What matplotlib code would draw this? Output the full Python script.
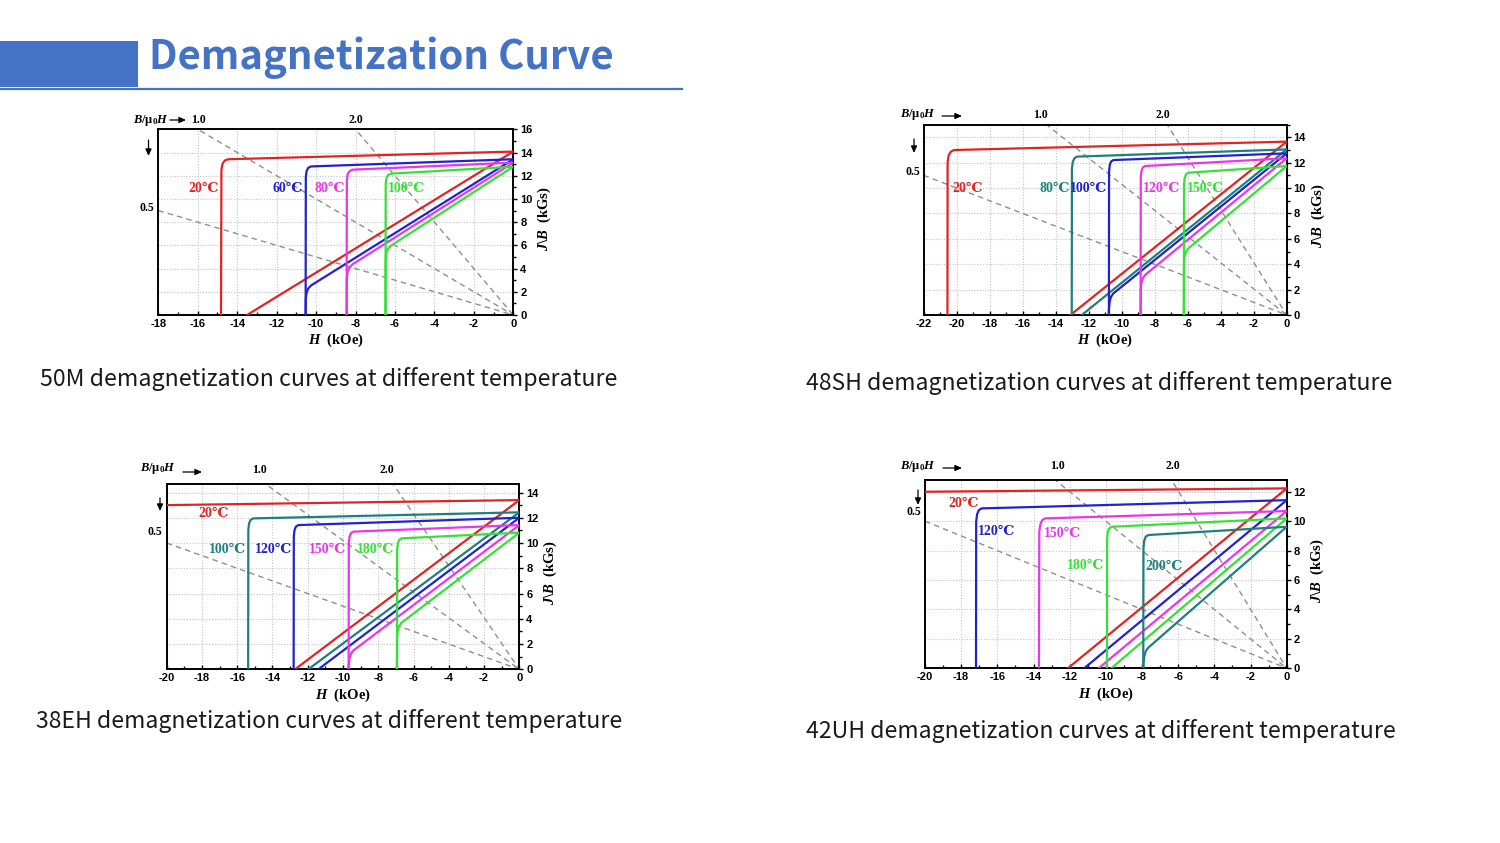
import matplotlib
matplotlib.use('Agg')
import matplotlib.pyplot as plt
from matplotlib.ticker import MultipleLocator
from matplotlib.patches import Rectangle, FancyArrowPatch
from matplotlib.lines import Line2D

plt.rcParams['mathtext.fontset'] = 'custom'
plt.rcParams['mathtext.rm'] = 'Liberation Serif:bold'
plt.rcParams['mathtext.it'] = 'Liberation Serif:italic:bold'
plt.rcParams['mathtext.bf'] = 'Liberation Serif:bold'
plt.rcParams['axes.unicode_minus'] = False

RED, BLUE, MAG, GRN, TEAL = '#e02424', '#2222cc', '#e836e8', '#36e036', '#1f7f7d'

# ---------------- 50M ----------------
m50_temps = ['20℃', '60℃', '80℃', '100℃']
m50_colors = [RED, BLUE, MAG, GRN]
m50_J_H = [[0, -14.45, -14.62, -14.74, -14.80, -14.82],
           [0, -10.25, -10.40, -10.48, -10.52, -10.53],
           [0, -8.15, -8.30, -8.40, -8.44, -8.45],
           [0, -6.20, -6.35, -6.43, -6.47, -6.48]]
m50_J_V = [[14.08, 13.42, 13.32, 13.05, 12.5, 0],
           [13.42, 12.80, 12.68, 12.40, 11.9, 0],
           [13.13, 12.52, 12.40, 12.12, 11.6, 0],
           [12.78, 12.18, 12.06, 11.80, 11.3, 0]]
m50_B_H = [[0, -13.5],
           [0, -10.25, -10.40, -10.48, -10.52, -10.53],
           [0, -8.15, -8.30, -8.40, -8.44, -8.45],
           [0, -6.20, -6.35, -6.43, -6.47, -6.48]]
m50_B_V = [[14.08, 0],
           [13.42, 2.55, 2.28, 1.92, 1.38, 0],
           [13.13, 4.37, 4.10, 3.72, 3.16, 0],
           [12.78, 5.98, 5.71, 5.37, 4.83, 0]]
m50_lbl_H = [-14.95, -10.65, -8.55, -6.35]
m50_lbl_J = [10.9, 10.9, 10.9, 10.9]
m50_lbl_ha = ['right', 'right', 'right', 'left']
m50_load = [0.5, 1.0, 2.0]

# ---------------- 48SH ----------------
sh48_temps = ['20℃', '80℃', '100℃', '120℃', '150℃']
sh48_colors = [RED, TEAL, BLUE, MAG, GRN]
sh48_J_H = [[0, -20.15, -20.35, -20.48, -20.54, -20.55],
            [0, -12.70, -12.86, -12.96, -13.01, -13.02],
            [0, -10.50, -10.64, -10.72, -10.76, -10.77],
            [0, -8.58, -8.72, -8.80, -8.84, -8.85],
            [0, -5.96, -6.10, -6.18, -6.22, -6.23]]
sh48_J_V = [[13.65, 12.99, 12.85, 12.55, 12.0, 0],
            [13.04, 12.47, 12.35, 12.05, 11.5, 0],
            [12.73, 12.20, 12.08, 11.80, 11.3, 0],
            [12.34, 11.73, 11.61, 11.33, 10.83, 0],
            [11.73, 11.20, 11.08, 10.80, 10.3, 0]]
sh48_B_H = [[0, -13.1],
            [0, -12.41],
            [0, -10.50, -10.64, -10.72, -10.76, -10.77],
            [0, -8.58, -8.72, -8.80, -8.84, -8.85],
            [0, -5.96, -6.10, -6.18, -6.22, -6.23]]
sh48_B_V = [[13.65, 0],
            [13.04, 0],
            [12.73, 1.70, 1.44, 1.08, 0.54, 0],
            [12.34, 3.15, 2.89, 2.53, 1.99, 0],
            [11.73, 5.24, 4.98, 4.62, 4.08, 0]]
sh48_lbl_H = [-20.25, -13.1, -10.88, -8.7, -6.05]
sh48_lbl_J = [9.97, 9.97, 9.97, 9.97, 9.97]
sh48_lbl_ha = ['left', 'right', 'right', 'left', 'left']
sh48_load = [0.5, 1.03, 2.07]

# ---------------- 38EH ----------------
eh38_temps = ['20℃', '100℃', '120℃', '150℃', '180℃']
eh38_colors = [RED, TEAL, BLUE, MAG, GRN]
eh38_J_H = [[0, -20],
            [0, -15.09, -15.24, -15.33, -15.37, -15.38],
            [0, -12.53, -12.67, -12.75, -12.79, -12.80],
            [0, -9.41, -9.55, -9.63, -9.67, -9.68],
            [0, -6.67, -6.81, -6.89, -6.93, -6.94]]
eh38_J_V = [[13.4, 13.0],
            [12.43, 11.95, 11.83, 11.55, 11.05, 0],
            [12.00, 11.42, 11.30, 11.02, 10.52, 0],
            [11.42, 10.90, 10.78, 10.50, 10.0, 0],
            [10.82, 10.37, 10.25, 9.97, 9.47, 0]]
eh38_B_H = [[0, -12.72],
            [0, -11.97],
            [0, -11.4],
            [0, -9.41, -9.55, -9.63, -9.67, -9.68],
            [0, -6.67, -6.81, -6.89, -6.93, -6.94]]
eh38_B_V = [[13.4, 0],
            [12.43, 0],
            [12.0, 0],
            [11.42, 1.49, 1.23, 0.87, 0.33, 0],
            [10.82, 3.70, 3.44, 3.08, 2.54, 0]]
eh38_lbl_H = [-18.2, -15.5, -12.9, -9.8, -7.1]
eh38_lbl_J = [12.35, 9.45, 9.45, 9.45, 9.45]
eh38_lbl_ha = ['left', 'right', 'right', 'right', 'right']
eh38_load = [0.5, 1.02, 2.05]

# ---------------- 42UH ----------------
uh42_temps = ['20℃', '120℃', '150℃', '180℃', '200℃']
uh42_colors = [RED, BLUE, MAG, GRN, TEAL]
uh42_J_H = [[0, -20],
            [0, -16.87, -17.02, -17.12, -17.17, -17.18],
            [0, -13.36, -13.52, -13.62, -13.68, -13.70],
            [0, -9.68, -9.82, -9.90, -9.93, -9.94],
            [0, -7.65, -7.80, -7.88, -7.92, -7.93]]
uh42_J_V = [[12.23, 12.0],
            [11.43, 10.87, 10.75, 10.47, 9.97, 0],
            [10.69, 10.19, 10.07, 9.79, 9.29, 0],
            [10.19, 9.62, 9.50, 9.22, 8.72, 0],
            [9.62, 9.06, 8.94, 8.66, 8.16, 0]]
uh42_B_H = [[0, -12.1],
            [0, -11.2],
            [0, -10.4],
            [0, -9.7],
            [0, -7.65, -7.80, -7.88, -7.92, -7.93]]
uh42_B_V = [[12.23, 0],
            [11.43, 0],
            [10.69, 0],
            [10.19, 0],
            [9.62, 1.41, 1.14, 0.78, 0.24, 0]]
uh42_lbl_H = [-18.7, -17.05, -13.4, -10.1, -7.8]
uh42_lbl_J = [11.2, 9.28, 9.17, 7.0, 6.9]
uh42_lbl_ha = ['left', 'left', 'left', 'right', 'left']
uh42_load = [0.5, 1.0, 2.01]

load_names = ['1.0', '2.0']
captions = ['50M demagnetization curves at different temperature',
            '48SH demagnetization curves at different temperature',
            '38EH demagnetization curves at different temperature',
            '42UH demagnetization curves at different temperature']

W, H = 1500, 843
fig = plt.figure(figsize=(15, 8.43), dpi=100)


def fx(x):
    return x / W


def fy(y):
    return 1 - y / H


def make_axes(l, r, t, b):
    return fig.add_axes([fx(l), fy(b), (r - l) / W, (b - t) / H])


SERIF = ['Liberation Serif', 'DejaVu Serif', 'Noto Sans CJK SC']


def arrow(p0, p1):
    fig.add_artist(FancyArrowPatch(
        (fx(p0[0]), fy(p0[1])), (fx(p1[0]), fy(p1[1])),
        transform=fig.transFigure,
        arrowstyle='-|>,head_length=4,head_width=1.8', lw=0.9,
        color='black', mutation_scale=1, shrinkA=0, shrinkB=0))


def panel(box, xlim, ylim, temps, colors, JH, JV, BH, BV, lH, lJ, lha, loads,
          deco):
    ax = make_axes(*box)
    ax.set_xlim(*xlim)
    ax.set_ylim(*ylim)
    ax.xaxis.set_major_locator(MultipleLocator(2))
    ax.xaxis.set_minor_locator(MultipleLocator(1))
    ax.yaxis.set_major_locator(MultipleLocator(2))
    ax.yaxis.set_minor_locator(MultipleLocator(1))
    ax.yaxis.tick_right()
    ax.tick_params(axis='x', which='both', direction='in', top=False,
                   labelsize=8, pad=3)
    ax.tick_params(axis='x', which='major', length=3, width=1)
    ax.tick_params(axis='x', which='minor', length=2, width=1)
    ax.tick_params(axis='y', which='both', direction='out', left=False,
                   right=True, labelsize=8, pad=2)
    ax.tick_params(axis='y', which='major', length=3, width=1)
    ax.tick_params(axis='y', which='minor', length=2, width=1)
    for lab in ax.get_xticklabels() + ax.get_yticklabels():
        lab.set_fontfamily('Liberation Sans')
        lab.set_fontweight('bold')
    for s in ax.spines.values():
        s.set_linewidth(1.4)
        s.set_color('black')
    ax.grid(True, which='major', color='#c4c4c4', linestyle=(0, (1, 1.5)),
            linewidth=0.8)
    ax.set_axisbelow(True)
    for sl in loads:
        ax.plot([xlim[0], 0], [-sl * xlim[0], 0], color='#8f8f8f', lw=1.0,
                linestyle=(0, (4, 3)), zorder=2)
    for i in range(len(temps)):
        ax.plot(JH[i], JV[i], color=colors[i], lw=1.6, zorder=4,
                solid_joinstyle='round')
        ax.plot(BH[i], BV[i], color=colors[i], lw=1.6, zorder=4,
                solid_joinstyle='round')
        ax.text(lH[i], lJ[i], temps[i], color=colors[i], ha=lha[i],
                va='center', fontsize=10, fontweight='bold', family=SERIF,
                zorder=5)
    ax.set_xlabel(r'$H$  (kOe)', fontfamily='Liberation Serif',
                  fontweight='bold', fontsize=10.5, labelpad=2)
    ax.yaxis.set_label_position('right')
    ax.set_ylabel(r'$J\backslash B$  (kGs)', fontfamily='Liberation Serif',
                  fontweight='bold', fontsize=10.5, labelpad=4, rotation=90)
    ax.yaxis.set_label_coords(1.062, 0.52)
    # decorations (figure pixel positions)
    bx, by, a0, a1, ay, lx, ly, dx, dy0, dy1, hx, hy = deco
    fig.text(fx(bx), fy(by), r'$B/\mathrm{\mu}_0H$', fontsize=9,
             ha='left', va='center', fontfamily='Liberation Serif',
             fontweight='bold')
    arrow((a0, ay), (a1, ay))
    for name, x in zip(load_names, lx):
        fig.text(fx(x), fy(ly), name, fontsize=8.5, ha='center', va='center',
                 fontfamily='Liberation Serif', fontweight='bold')
    arrow((dx, dy0), (dx, dy1))
    fig.text(fx(hx), fy(hy), '0.5', fontsize=8.5, ha='right', va='center',
             fontfamily='Liberation Serif', fontweight='bold')
    return ax


panel((158.3, 513.3, 129.3, 315), (-18, 0), (0, 16), m50_temps, m50_colors,
      m50_J_H, m50_J_V, m50_B_H, m50_B_V, m50_lbl_H, m50_lbl_J, m50_lbl_ha,
      m50_load,
      (133, 121, 170, 186, 120, (198, 356), 120, 148.5, 140, 156, 154, 208))
panel((923.5, 1286.7, 124.5, 315), (-22, 0), (0, 15), sh48_temps,
      sh48_colors, sh48_J_H, sh48_J_V, sh48_B_H, sh48_B_V, sh48_lbl_H,
      sh48_lbl_J, sh48_lbl_ha, sh48_load,
      (900, 115, 942, 962, 116, (1040.7, 1162.7), 115, 914, 139, 153, 920,
       172))
panel((166.7, 519.3, 484.3, 669.3), (-20, 0), (0, 14.65), eh38_temps,
      eh38_colors, eh38_J_H, eh38_J_V, eh38_B_H, eh38_B_V, eh38_lbl_H,
      eh38_lbl_J, eh38_lbl_ha, eh38_load,
      (140, 468, 183, 202, 472, (259.3, 387.3), 470, 160, 498, 511, 162,
       532))
panel((925, 1286.7, 480, 668.3), (-20, 0), (0, 12.8), uh42_temps,
      uh42_colors, uh42_J_H, uh42_J_V, uh42_B_H, uh42_B_V, uh42_lbl_H,
      uh42_lbl_J, uh42_lbl_ha, uh42_load,
      (900, 467, 943, 962, 468, (1057.3, 1172.7), 466, 918, 490, 505, 921,
       512))

# header
fig.add_artist(Rectangle((0, fy(87)), 138 / W, 46 / H,
                         transform=fig.transFigure, color='#4472C4', lw=0))
fig.add_artist(Line2D([0, fx(682)], [fy(88.5), fy(88.5)],
                      transform=fig.transFigure, color='#4472C4', lw=1.6))
title = fig.text(fx(149), fy(58), 'Demagnetization Curve', color='#4472C4',
                 fontsize=30, fontweight='bold', family='Noto Sans CJK SC',
                 ha='left', va='center')

cap_pos = [(40, 616, 379), (806, 1390, 383), (36, 620, 721), (806, 1394, 731)]
caps = []
for text, (x0, x1, yc) in zip(captions, cap_pos):
    t = fig.text(fx(x0), fy(yc), text, color='#1a1a1a', fontsize=16,
                 family='Noto Sans CJK SC', ha='left', va='center')
    caps.append((t, x1 - x0))

fig.canvas.draw()
r = fig.canvas.get_renderer()
wt = title.get_window_extent(r).width
title.set_fontsize(30 * 465 / wt)
for t, target in caps:
    w = t.get_window_extent(r).width
    t.set_fontsize(16 * target / w)

fig.savefig('out.png', dpi=100, facecolor='white')
